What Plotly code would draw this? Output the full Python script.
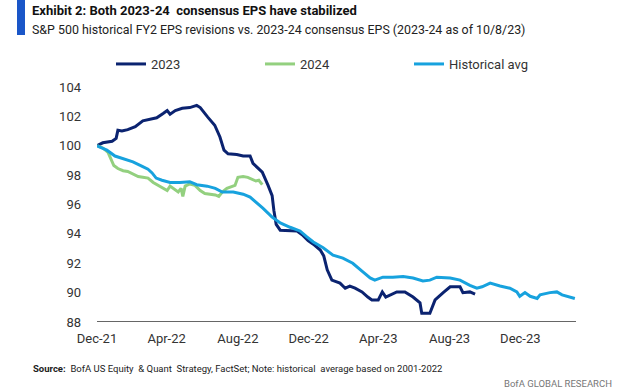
import plotly.graph_objects as go

dates_2023 = ["2021-12-31","2022-01-10","2022-01-26","2022-02-02","2022-02-05","2022-02-12","2022-02-22","2022-03-07","2022-03-20","2022-04-01","2022-04-13","2022-04-24","2022-05-01","2022-05-06","2022-05-15","2022-05-27","2022-06-09","2022-06-21","2022-06-27","2022-07-10","2022-07-22","2022-07-31","2022-08-07","2022-08-14","2022-08-29","2022-09-09","2022-09-21","2022-09-26","2022-10-12","2022-10-22","2022-10-29","2022-11-01","2022-11-05","2022-11-12","2022-11-29","2022-12-11","2022-12-21","2022-12-30","2023-01-08","2023-01-20","2023-01-26","2023-02-01","2023-02-09","2023-02-23","2023-03-04","2023-03-12","2023-03-21","2023-04-02","2023-04-12","2023-04-19","2023-04-30","2023-05-07","2023-05-13","2023-06-01","2023-06-15","2023-06-29","2023-07-11","2023-07-14","2023-07-28","2023-08-06","2023-08-20","2023-09-01","2023-09-18","2023-09-23","2023-10-05","2023-10-14"]
vals_2023 = [100.0,100.2,100.3,100.5,101.05,101.0,101.1,101.3,101.7,101.8,101.9,102.2,102.4,102.15,102.4,102.55,102.6,102.75,102.6,101.95,101.4,100.6,99.7,99.45,99.4,99.3,99.3,98.8,98.2,97.3,96.6,95.6,94.65,94.25,94.25,94.2,93.9,93.55,93.3,92.9,92.5,91.55,90.85,90.65,90.3,90.45,90.3,90.05,89.7,89.5,89.5,90.05,89.7,90.05,90.05,89.7,89.3,88.6,88.6,89.5,90.0,90.4,90.4,90.0,90.05,89.9]

dates_2024 = ["2021-12-31","2022-01-10","2022-01-19","2022-01-24","2022-01-29","2022-02-05","2022-02-14","2022-02-22","2022-03-03","2022-03-12","2022-03-20","2022-03-29","2022-04-07","2022-04-15","2022-04-24","2022-05-01","2022-05-06","2022-05-13","2022-05-20","2022-05-25","2022-05-28","2022-06-01","2022-06-09","2022-06-18","2022-06-27","2022-07-05","2022-07-14","2022-07-23","2022-07-29","2022-08-04","2022-08-12","2022-08-21","2022-08-26","2022-08-31","2022-09-09","2022-09-17","2022-09-24","2022-10-01","2022-10-06","2022-10-12"]
vals_2024 = [100.0,99.85,99.55,99.15,98.65,98.45,98.3,98.25,98.1,97.9,97.85,97.8,97.5,97.3,97.1,96.95,97.25,97.05,96.85,97.1,96.55,97.25,97.4,97.3,96.95,96.75,96.7,96.65,96.55,96.85,97.1,97.25,97.3,97.85,97.9,97.85,97.7,97.6,97.65,97.35]

dates_hist = ["2021-12-31","2022-01-17","2022-01-31","2022-02-14","2022-03-03","2022-03-19","2022-03-29","2022-04-05","2022-04-12","2022-04-22","2022-05-06","2022-05-23","2022-06-09","2022-06-21","2022-07-09","2022-07-23","2022-08-04","2022-08-23","2022-09-09","2022-09-21","2022-10-03","2022-10-13","2022-10-29","2022-11-12","2022-11-29","2022-12-16","2022-12-28","2023-01-08","2023-01-25","2023-02-11","2023-02-28","2023-03-17","2023-04-04","2023-04-16","2023-04-24","2023-05-08","2023-05-25","2023-06-12","2023-06-29","2023-07-16","2023-07-28","2023-08-09","2023-09-01","2023-09-18","2023-10-05","2023-10-17","2023-10-26","2023-11-09","2023-11-26","2023-12-13","2023-12-25","2023-12-30","2024-01-08","2024-01-17","2024-01-29","2024-02-03","2024-02-20","2024-03-03","2024-03-12","2024-03-21","2024-04-03"]
vals_hist = [100.0,99.7,99.3,99.1,98.9,98.6,98.4,98.15,97.8,97.65,97.5,97.5,97.55,97.35,97.25,97.1,96.85,96.85,96.7,96.5,96.1,95.75,95.15,94.75,94.45,94.2,93.8,93.45,93.05,92.55,92.35,92.0,91.4,91.0,90.85,91.05,91.05,91.1,91.0,90.8,90.85,91.05,91.0,90.85,90.5,90.3,90.4,90.65,90.45,90.3,90.05,89.75,90.0,89.75,89.6,89.85,90.0,90.05,89.85,89.75,89.6]

tick_dates = ["2021-12-31","2022-04-30","2022-08-31","2022-12-31","2023-04-30","2023-08-31","2023-12-31"]
tick_labels = ["Dec-21","Apr-22","Aug-22","Dec-22","Apr-23","Aug-23","Dec-23"]
y_ticks = [88, 90, 92, 94, 96, 98, 100, 102, 104]

FONT = "Roboto, Arial, sans-serif"
NAVY = "#0B2370"
GREEN = "#93D07F"
LBLUE = "#17A2DE"
PW, PH = 479, 235  # plot area size in px

fig = go.Figure()
fig.add_trace(go.Scatter(x=dates_2023, y=vals_2023, mode="lines", name="2023",
                         line=dict(color=NAVY, width=3)))
fig.add_trace(go.Scatter(x=dates_2024, y=vals_2024, mode="lines", name="2024",
                         line=dict(color=GREEN, width=3)))
fig.add_trace(go.Scatter(x=dates_hist, y=vals_hist, mode="lines", name="Historical avg",
                         line=dict(color=LBLUE, width=3)))

fig.update_layout(
    width=621, height=391,
    margin=dict(l=97, r=45, t=87, b=69, autoexpand=False),
    paper_bgcolor="white", plot_bgcolor="white",
    font=dict(family=FONT, size=13, color="#333333"),
    showlegend=True,
    legend=dict(orientation="h", x=14/PW, y=1 + 23/PH, xanchor="left", yanchor="middle",
                traceorder="normal", entrywidth=104, entrywidthmode="pixels",
                font=dict(size=13, color="#333333"), bgcolor="rgba(0,0,0,0)"),
    xaxis=dict(type="date", range=["2021-12-31", "2024-04-05"],
               tickmode="array", tickvals=tick_dates, ticktext=tick_labels,
               showgrid=False, zeroline=False, showline=False, ticks="",
               ticklabelstandoff=7, automargin=False,
               tickfont=dict(size=13, color="#333333")),
    yaxis=dict(range=[88, 104], tickmode="array", tickvals=y_ticks,
               showgrid=False, zeroline=False, showline=False, ticks="",
               ticklabelstandoff=15, automargin=False,
               tickfont=dict(size=13, color="#333333")),
)
fig.add_shape(type="line", xref="paper", yref="y", x0=0, x1=1, y0=88, y1=88,
              line=dict(color="#333333", width=1.5))
fig.add_shape(type="rect", xref="paper", yref="paper",
              x0=-80/PW, x1=-72/PW, y0=1 + 52/PH, y1=1 + 87/PH,
              fillcolor="#1A56C8", line=dict(width=0))
fig.add_annotation(xref="paper", yref="paper", x=-67/PW, y=1 + 77/PH,
                   xanchor="left", yanchor="middle", showarrow=False,
                   text="<b>Exhibit 2: Both 2023-24  consensus EPS have stabilized</b>",
                   font=dict(size=13, color="#111111", family=FONT))
fig.add_annotation(xref="paper", yref="paper", x=-67/PW, y=1 + 58/PH,
                   xanchor="left", yanchor="middle", showarrow=False,
                   text="S&P 500 historical FY2 EPS revisions vs. 2023-24 consensus EPS (2023-24 as of 10/8/23)",
                   font=dict(size=12.4, color="#222222", family=FONT))
fig.add_annotation(xref="paper", yref="paper", x=-66/PW, y=-46/PH,
                   xanchor="left", yanchor="middle", showarrow=False,
                   text="<b>Source:</b>  BofA US Equity  & Quant  Strategy, FactSet; Note: historical  average based on 2001-2022",
                   font=dict(size=9.5, color="#222222", family=FONT))
fig.add_annotation(xref="paper", yref="paper", x=1 + 38/PW, y=-61/PH,
                   xanchor="right", yanchor="middle", showarrow=False,
                   text="BofA GLOBAL RESEARCH",
                   font=dict(size=9.5, color="#777777", family=FONT))

fig.write_html("out.html", config={"displayModeBar": False},
               post_script="document.body.style.margin='0px';")
